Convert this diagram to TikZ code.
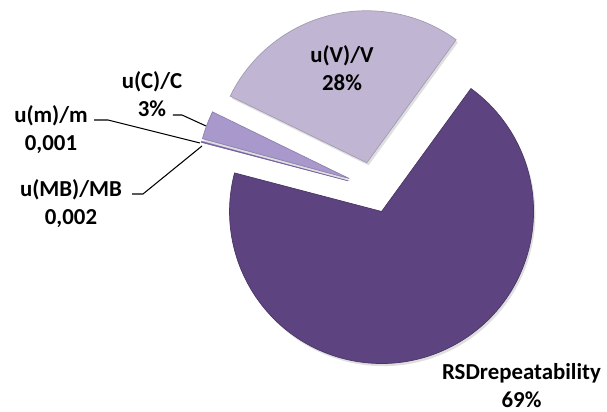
\documentclass[tikz,border=0pt]{standalone}
\usepackage{fontspec}
\setmainfont{Carlito}
\usepackage{tikz}
\usetikzlibrary{calc, shadows}

\definecolor{rsdpurple}{RGB}{93,68,128}
\definecolor{uvlilac}{RGB}{192,182,211}
\definecolor{uclilac}{RGB}{168,152,204}
\definecolor{umgray}{RGB}{200,196,210}
\definecolor{umbpurple}{RGB}{120,96,170}

\tikzstyle{wedge} = [drop shadow={opacity=0.25, shadow xshift=1pt, shadow yshift=-1.5pt}, line width=0.4pt]
\tikzstyle{pielabel} = [font=\fontsize{13}{16}\selectfont\bfseries, align=center, inner sep=0]
\tikzstyle{leader} = [line width=0.6pt]

\begin{document}
\begin{tikzpicture}

\useasboundingbox (0, 0) rectangle (12.14, 8.24);
\coordinate (c) at (7.46, 4.49);

% Slices, each one pushed out along its middle
\filldraw [wedge, fill=uvlilac, draw=uvlilac!85!black] ($(c)+(104:0.51)$) -- ++(54:3.04) arc [start angle=54, end angle=154, radius=3.04] -- cycle;
\filldraw [wedge, fill=uclilac, draw=uclilac!85!black] ($(c)+(159.4:0.51)$) -- ++(154:3.04) arc [start angle=154, end angle=164.8, radius=3.04] -- cycle;
\filldraw [fill=umgray, draw=umgray!85!black, line width=0.3pt] ($(c)+(164.9:0.51)$) -- ++(164.8:3.04) arc [start angle=164.8, end angle=165.0, radius=3.04] -- cycle;
\filldraw [fill=umbpurple, draw=umbpurple, line width=0.3pt] ($(c)+(165.15:0.51)$) -- ++(165.0:3.04) arc [start angle=165.0, end angle=165.3, radius=3.04] -- cycle;
\filldraw [wedge, fill=rsdpurple, draw=rsdpurple!80!black] ($(c)+(289.65:0.51)$) -- ++(165.3:3.04) arc [start angle=165.3, end angle=414, radius=3.04] -- cycle;

% Labels
\node [pielabel] (uvl) at (6.84, 6.88) {u(V)/V\\28\%};
\node [pielabel] (ucl) at (3.04, 6.36) {u(C)/C\\3\%};
\node [pielabel] (uml) at (1.02, 5.64) {u(m)/m\\0,001};
\node [pielabel] (umbl) at (1.42, 4.16) {u(MB)/MB\\0,002};
\node [pielabel] (rsdl) at (10.43, 0.52) {RSDrepeatability\\69\%};

% Leader lines
\coordinate (uctip) at (4.12, 5.72);
\coordinate (umtip) at (4.00, 5.38);
\coordinate (umbtip) at (4.04, 5.32);
\draw [leader] ([shift={(0.42,-0.42)}]ucl.center) -- ++(0.18, 0) -- (uctip);
\draw [leader] ([shift={(0.86,0.2)}]uml.center) -- ++(0.28, 0) -- (umtip);
\draw [leader] ([shift={(1.22,0.2)}]umbl.center) -- ++(0.22, 0) -- (umbtip);

\end{tikzpicture}
\end{document}
